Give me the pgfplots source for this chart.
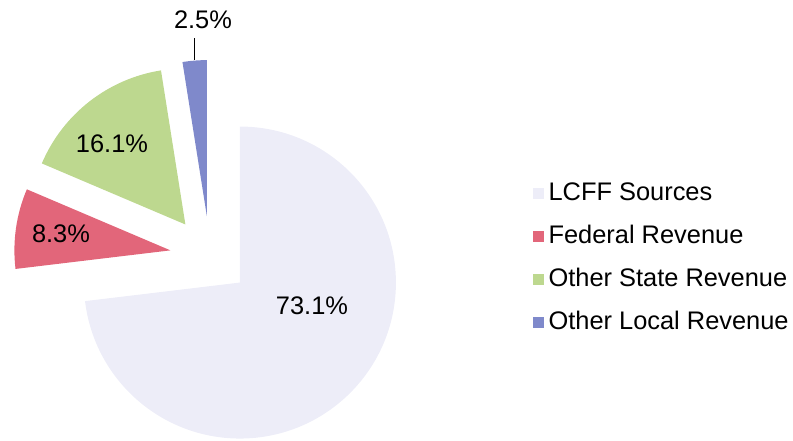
\documentclass[border=0pt]{standalone}
\usepackage{fontspec}
\setmainfont{Liberation Sans}
\usepackage{pgfplots}
\usepackage{pgfplotstable}
\pgfplotsset{compat=1.18}
\definecolor{lcff}{HTML}{EDEDF8}
\definecolor{fed}{HTML}{E2667A}
\definecolor{state}{HTML}{BDD88F}
\definecolor{local}{HTML}{7F89CB}
\pgfplotstableread{
name value color lx ly
LCFF 73.1 lcff 312 134
Federal 8.3 fed 61 206
State 16.1 state 112 296
Local 2.5 local 203 420
}\piedata
\tikzset{lbl/.style={font=\fontsize{25.4}{30}\selectfont, inner sep=0pt}}
\begin{document}
\begin{tikzpicture}
\begin{axis}[
  width=793pt, height=440pt, scale only axis,
  xmin=0, xmax=793, ymin=0, ymax=440,
  enlargelimits=false, hide axis, clip=false,
  legend style={draw=none, fill=none, inner sep=0pt,
    at={(axis cs:533,259)}, anchor=north west,
    font=\fontsize{25.4}{30}\selectfont,
    row sep=19pt, column sep=5pt,
    nodes={inner sep=0pt, anchor=west, text height=19pt, text depth=5pt}},
  legend cell align=left,
  legend image code/.code={\fill[#1] (0pt,-5pt) rectangle (10pt,5pt);},
]
\path (axis cs:0,0) rectangle (axis cs:793,440);
\pgfplotstablegetrowsof{\piedata}
\pgfmathtruncatemacro\N{\pgfplotsretval-1}
\def\cum{90}
\pgfplotsforeachungrouped \i in {0,...,\N}{%
  \pgfplotstablegetelem{\i}{value}\of\piedata \let\v\pgfplotsretval
  \pgfplotstablegetelem{\i}{color}\of\piedata \let\c\pgfplotsretval
  \pgfplotstablegetelem{\i}{lx}\of\piedata \let\lx\pgfplotsretval
  \pgfplotstablegetelem{\i}{ly}\of\piedata \let\ly\pgfplotsretval
  \pgfmathsetmacro\a{\cum}%
  \pgfmathsetmacro\b{\cum-\v*3.6}%
  \pgfmathsetmacro\m{(\a+\b)/2}%
  \pgfmathsetmacro\ex{210+40*cos(\m)}%
  \pgfmathsetmacro\ey{184+40*sin(\m)}%
  \edef\temp{\noexpand\fill[\c] (axis cs:\ex,\ey) -- ++(\a:156pt) arc[start angle=\a, end angle=\b, radius=156pt] -- cycle;
    \noexpand\node[lbl] at (axis cs:\lx,\ly) {\v\noexpand\%};}%
  \temp
  \global\let\cum\b
}
\draw[black, line width=1pt] (axis cs:194,380) -- (axis cs:194,402);
\addlegendimage{lcff}\addlegendentry{LCFF Sources}
\addlegendimage{fed}\addlegendentry{Federal Revenue}
\addlegendimage{state}\addlegendentry{Other State Revenue}
\addlegendimage{local}\addlegendentry{Other Local Revenue}
\end{axis}
\end{tikzpicture}
\end{document}
